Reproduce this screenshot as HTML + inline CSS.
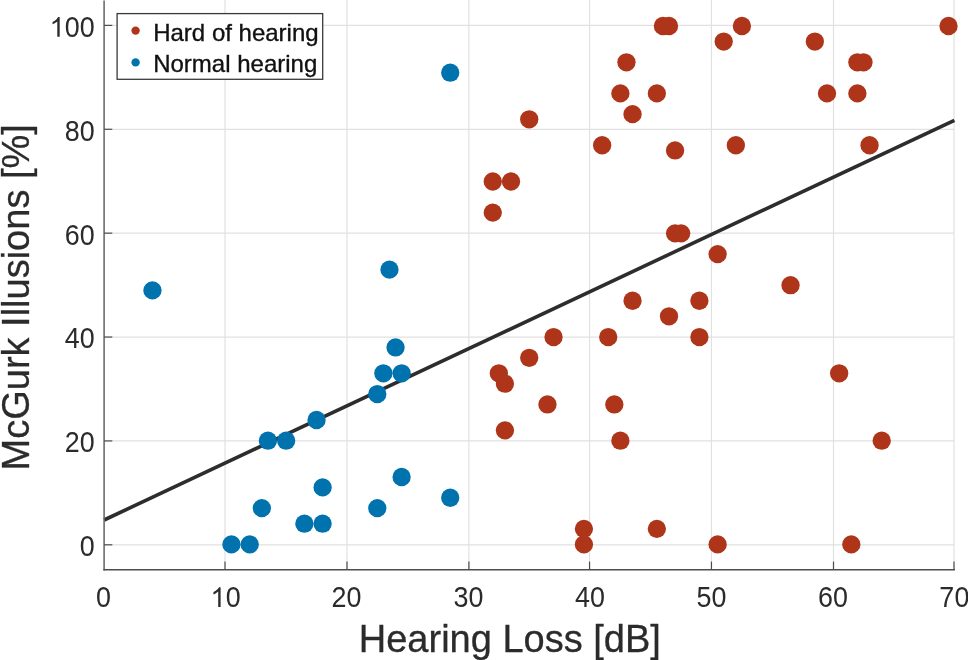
<!DOCTYPE html>
<html><head><meta charset="utf-8"><title>McGurk Illusions vs Hearing Loss</title>
<style>
html,body{margin:0;padding:0;background:#fff;}
body{width:968px;height:660px;overflow:hidden;position:relative;font-family:"Liberation Sans",sans-serif;}
svg{position:absolute;left:0;top:0;display:block;will-change:transform;filter:blur(0.45px);}
svg text{font-family:"Liberation Sans",sans-serif;}
</style></head><body>
<svg width="968" height="660" viewBox="0 0 968 660">
<rect x="0" y="0" width="968" height="660" fill="#ffffff"/>
<g stroke="#e1e1e1" stroke-width="1.2" fill="none">
<line x1="225.00" y1="0" x2="225.00" y2="569.8"/>
<line x1="347.00" y1="0" x2="347.00" y2="569.8"/>
<line x1="468.90" y1="0" x2="468.90" y2="569.8"/>
<line x1="589.55" y1="0" x2="589.55" y2="569.8"/>
<line x1="711.45" y1="0" x2="711.45" y2="569.8"/>
<line x1="833.50" y1="0" x2="833.50" y2="569.8"/>
<line x1="954.00" y1="0" x2="954.00" y2="569.8"/>
<line x1="104.10" y1="544.80" x2="954.4" y2="544.80"/>
<line x1="104.10" y1="440.92" x2="954.4" y2="440.92"/>
<line x1="104.10" y1="337.04" x2="954.4" y2="337.04"/>
<line x1="104.10" y1="233.16" x2="954.4" y2="233.16"/>
<line x1="104.10" y1="129.28" x2="954.4" y2="129.28"/>
<line x1="104.10" y1="25.40" x2="954.4" y2="25.40"/>
</g>
<line x1="104.1" y1="520.0" x2="954.4" y2="120.3" stroke="#2d2d2d" stroke-width="3.6"/>
<g fill="#ae351a">
<circle cx="492.77" cy="181.52" r="9.15"/>
<circle cx="511.00" cy="181.52" r="9.15"/>
<circle cx="492.77" cy="212.62" r="9.15"/>
<circle cx="529.23" cy="119.31" r="9.15"/>
<circle cx="602.15" cy="145.23" r="9.15"/>
<circle cx="620.38" cy="93.39" r="9.15"/>
<circle cx="626.46" cy="62.29" r="9.15"/>
<circle cx="632.54" cy="114.13" r="9.15"/>
<circle cx="656.85" cy="93.39" r="9.15"/>
<circle cx="662.92" cy="26.00" r="9.15"/>
<circle cx="669.00" cy="26.00" r="9.15"/>
<circle cx="675.08" cy="150.42" r="9.15"/>
<circle cx="723.69" cy="41.55" r="9.15"/>
<circle cx="741.93" cy="26.00" r="9.15"/>
<circle cx="735.85" cy="145.23" r="9.15"/>
<circle cx="675.08" cy="233.36" r="9.15"/>
<circle cx="681.15" cy="233.36" r="9.15"/>
<circle cx="814.85" cy="41.55" r="9.15"/>
<circle cx="827.00" cy="93.39" r="9.15"/>
<circle cx="857.39" cy="62.29" r="9.15"/>
<circle cx="863.47" cy="62.29" r="9.15"/>
<circle cx="857.39" cy="93.39" r="9.15"/>
<circle cx="869.54" cy="145.23" r="9.15"/>
<circle cx="948.54" cy="26.00" r="9.15"/>
<circle cx="717.62" cy="254.10" r="9.15"/>
<circle cx="632.54" cy="300.75" r="9.15"/>
<circle cx="699.39" cy="300.75" r="9.15"/>
<circle cx="669.00" cy="316.30" r="9.15"/>
<circle cx="699.39" cy="337.04" r="9.15"/>
<circle cx="608.23" cy="337.04" r="9.15"/>
<circle cx="553.54" cy="337.04" r="9.15"/>
<circle cx="529.23" cy="357.78" r="9.15"/>
<circle cx="498.85" cy="373.33" r="9.15"/>
<circle cx="504.92" cy="383.70" r="9.15"/>
<circle cx="547.46" cy="404.43" r="9.15"/>
<circle cx="614.31" cy="404.43" r="9.15"/>
<circle cx="504.92" cy="430.35" r="9.15"/>
<circle cx="620.38" cy="440.72" r="9.15"/>
<circle cx="790.54" cy="285.20" r="9.15"/>
<circle cx="839.16" cy="373.33" r="9.15"/>
<circle cx="881.70" cy="440.72" r="9.15"/>
<circle cx="583.92" cy="528.85" r="9.15"/>
<circle cx="583.92" cy="544.40" r="9.15"/>
<circle cx="656.85" cy="528.85" r="9.15"/>
<circle cx="717.62" cy="544.40" r="9.15"/>
<circle cx="851.31" cy="544.40" r="9.15"/>
</g>
<g fill="#0073af">
<circle cx="152.46" cy="290.38" r="9.15"/>
<circle cx="231.46" cy="544.40" r="9.15"/>
<circle cx="249.69" cy="544.40" r="9.15"/>
<circle cx="261.84" cy="508.11" r="9.15"/>
<circle cx="267.92" cy="440.72" r="9.15"/>
<circle cx="286.15" cy="440.72" r="9.15"/>
<circle cx="304.38" cy="523.66" r="9.15"/>
<circle cx="322.61" cy="523.66" r="9.15"/>
<circle cx="322.61" cy="487.38" r="9.15"/>
<circle cx="316.53" cy="419.98" r="9.15"/>
<circle cx="377.30" cy="394.06" r="9.15"/>
<circle cx="377.30" cy="508.11" r="9.15"/>
<circle cx="383.38" cy="373.33" r="9.15"/>
<circle cx="401.61" cy="373.33" r="9.15"/>
<circle cx="395.54" cy="347.41" r="9.15"/>
<circle cx="401.61" cy="477.01" r="9.15"/>
<circle cx="450.23" cy="497.74" r="9.15"/>
<circle cx="389.46" cy="269.65" r="9.15"/>
<circle cx="450.23" cy="72.66" r="9.15"/>
</g>
<g stroke="#4d4d4d" stroke-width="1.5" fill="none">
<line x1="104.1" y1="0.5" x2="104.1" y2="570.55" stroke="#626262"/>
<line x1="103.35" y1="569.8" x2="955.0" y2="569.8"/>
</g>
<g stroke="#4d4d4d" stroke-width="1.2" fill="none">
<line x1="225.00" y1="569.8" x2="225.00" y2="561.5999999999999"/>
<line x1="347.00" y1="569.8" x2="347.00" y2="561.5999999999999"/>
<line x1="468.90" y1="569.8" x2="468.90" y2="561.5999999999999"/>
<line x1="589.55" y1="569.8" x2="589.55" y2="561.5999999999999"/>
<line x1="711.45" y1="569.8" x2="711.45" y2="561.5999999999999"/>
<line x1="833.50" y1="569.8" x2="833.50" y2="561.5999999999999"/>
<line x1="954.00" y1="569.8" x2="954.00" y2="561.5999999999999"/>
<line x1="104.1" y1="544.80" x2="112.3" y2="544.80"/>
<line x1="104.1" y1="440.92" x2="112.3" y2="440.92"/>
<line x1="104.1" y1="337.04" x2="112.3" y2="337.04"/>
<line x1="104.1" y1="233.16" x2="112.3" y2="233.16"/>
<line x1="104.1" y1="129.28" x2="112.3" y2="129.28"/>
<line x1="104.1" y1="25.40" x2="112.3" y2="25.40"/>
</g>
<g fill="#2b2b2b" font-size="28.6px">
<text transform="translate(103.50,606.90) scale(0.94,1)" text-anchor="middle">0</text>
<path transform="translate(210.50,606.90) scale(0.013232,-0.013428)" d="M763 0H583V1147Q518 1085 412.5 1023T223 930V1104Q374 1175 487 1276T647 1472H763Z"/>
<text transform="translate(233.11,606.90) scale(0.94,1)" text-anchor="middle">0</text>
<text transform="translate(339.00,606.90) scale(0.94,1)" text-anchor="middle">2</text>
<text transform="translate(354.08,606.90) scale(0.94,1)" text-anchor="middle">0</text>
<text transform="translate(460.97,606.90) scale(0.94,1)" text-anchor="middle">3</text>
<text transform="translate(476.05,606.90) scale(0.94,1)" text-anchor="middle">0</text>
<text transform="translate(582.44,606.90) scale(0.94,1)" text-anchor="middle">4</text>
<text transform="translate(597.52,606.90) scale(0.94,1)" text-anchor="middle">0</text>
<text transform="translate(703.91,606.90) scale(0.94,1)" text-anchor="middle">5</text>
<text transform="translate(718.99,606.90) scale(0.94,1)" text-anchor="middle">0</text>
<text transform="translate(825.38,606.90) scale(0.94,1)" text-anchor="middle">6</text>
<text transform="translate(840.46,606.90) scale(0.94,1)" text-anchor="middle">0</text>
<text transform="translate(946.85,606.90) scale(0.94,1)" text-anchor="middle">7</text>
<text transform="translate(961.93,606.90) scale(0.94,1)" text-anchor="middle">0</text>
<text transform="translate(87.26,556.20) scale(0.94,1)" text-anchor="middle">0</text>
<text transform="translate(72.19,452.32) scale(0.94,1)" text-anchor="middle">2</text>
<text transform="translate(87.26,452.32) scale(0.94,1)" text-anchor="middle">0</text>
<text transform="translate(72.19,348.44) scale(0.94,1)" text-anchor="middle">4</text>
<text transform="translate(87.26,348.44) scale(0.94,1)" text-anchor="middle">0</text>
<text transform="translate(72.19,244.56) scale(0.94,1)" text-anchor="middle">6</text>
<text transform="translate(87.26,244.56) scale(0.94,1)" text-anchor="middle">0</text>
<text transform="translate(72.19,140.68) scale(0.94,1)" text-anchor="middle">8</text>
<text transform="translate(87.26,140.68) scale(0.94,1)" text-anchor="middle">0</text>
<path transform="translate(49.58,36.80) scale(0.013232,-0.013428)" d="M763 0H583V1147Q518 1085 412.5 1023T223 930V1104Q374 1175 487 1276T647 1472H763Z"/>
<text transform="translate(72.19,36.80) scale(0.94,1)" text-anchor="middle">0</text>
<text transform="translate(87.26,36.80) scale(0.94,1)" text-anchor="middle">0</text>
</g>
<text x="509.8" y="651.7" font-size="38px" fill="#2b2b2b" stroke="#2b2b2b" stroke-width="0.3" text-anchor="middle">Hearing Loss [dB]</text>
<text transform="translate(28.9,297.3) rotate(-90)" font-size="38px" fill="#2b2b2b" stroke="#2b2b2b" stroke-width="0.3" text-anchor="middle">McGurk Illusions [%]</text>
<rect x="117.1" y="13.6" width="205.60" height="65.70" fill="#ffffff" stroke="#3a3a3a" stroke-width="1.3"/>
<circle cx="135.6" cy="30.6" r="4.2" fill="#ae351a"/>
<circle cx="135.6" cy="62.4" r="4.2" fill="#0073af"/>
<text x="153.2" y="40.7" font-size="24px" fill="#111111" stroke="#111111" stroke-width="0.35">Hard of hearing</text>
<text x="153.2" y="72.0" font-size="24px" fill="#111111" stroke="#111111" stroke-width="0.35">Normal hearing</text>
</svg>
</body></html>
